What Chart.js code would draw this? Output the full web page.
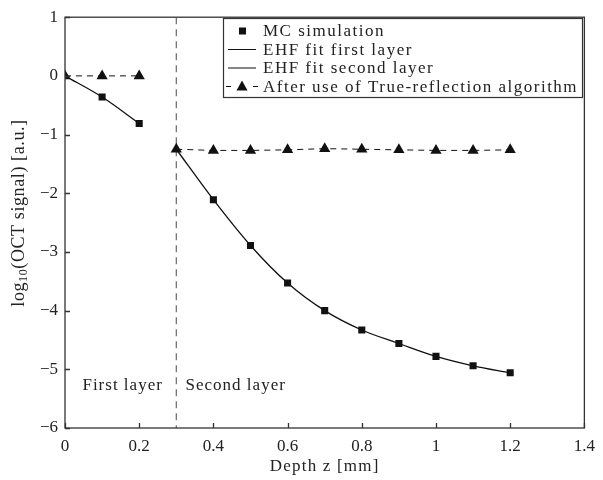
<!DOCTYPE html>
<html>
<head>
<meta charset="utf-8">
<script src="https://cdn.jsdelivr.net/npm/chart.js@4.4.0/dist/chart.umd.min.js"></script>
<style>
  html, body { margin: 0; padding: 0; background: #fff; }
</style>
</head>
<body>
<canvas id="myChart" width="603" height="480"></canvas>
<script>
// data
const depthMC = [0.1, 0.2, 0.4, 0.5, 0.6, 0.7, 0.8, 0.9, 1.0, 1.1, 1.2]
const mcSimulation = [-0.36, -0.81, -2.11, -2.89, -3.53, -4.00, -4.33, -4.56, -4.78, -4.94, -5.06]

const depthFirst = [0, 0.1, 0.2]
const fitFirst = [0, -0.36, -0.81]

const depthSecond = [0.3, 0.4, 0.5, 0.6, 0.7, 0.8, 0.9, 1.0, 1.1, 1.2]
const fitSecond = [-1.25, -2.11, -2.89, -3.53, -4.00, -4.33, -4.56, -4.78, -4.94, -5.06]

const depthTR = [0, 0.1, 0.2, 0.3, 0.4, 0.5, 0.6, 0.7, 0.8, 0.9, 1.0, 1.1, 1.2]
const trueReflection = [0, 0, 0, -1.25, -1.27, -1.27, -1.26, -1.24, -1.25, -1.26, -1.27, -1.27, -1.26]

const layerBoundary = 0.3
const xTicks = [0, 0.2, 0.4, 0.6, 0.8, 1, 1.2, 1.4]
const yTicks = [1, 0, -1, -2, -3, -4, -5, -6]

const legendLabels = ['MC simulation', 'EHF fit first layer', 'EHF fit second layer', 'After use of True-reflection algorithm']

const serif = '"Liberation Serif", "Times New Roman", serif'

const toPoints = (xs, ys) => xs.map((x, i) => ({ x: x, y: ys[i] }))

// box, inward ticks, axis titles, layer labels and legend
const decorations = {
  id: 'decorations',
  afterDraw(chart) {
    const ctx = chart.ctx
    const area = chart.chartArea
    const xs = chart.scales.x
    const ys = chart.scales.y
    ctx.save()
    ctx.strokeStyle = '#333'
    ctx.lineWidth = 1.3
    ctx.strokeRect(area.left, area.top, area.right - area.left, area.bottom - area.top)

    ctx.beginPath()
    xTicks.forEach(v => {
      const px = Math.round(xs.getPixelForValue(v)) + 0.5
      ctx.moveTo(px, area.bottom)
      ctx.lineTo(px, area.bottom - 5)
    })
    yTicks.forEach(v => {
      const py = Math.round(ys.getPixelForValue(v)) + 0.5
      ctx.moveTo(area.left, py)
      ctx.lineTo(area.left + 5, py)
    })
    ctx.stroke()

    ctx.fillStyle = '#222'
    ctx.textBaseline = 'middle'

    // x title
    ctx.font = '17px ' + serif
    ctx.letterSpacing = '1.2px'
    ctx.textAlign = 'center'
    ctx.fillText('Depth z [mm]', (area.left + area.right) / 2, 467)

    // y title with subscript
    ctx.save()
    ctx.translate(19, 213)
    ctx.rotate(-Math.PI / 2)
    ctx.textAlign = 'left'
    ctx.letterSpacing = '0.6px'
    const big = '18px ' + serif
    const small = '12px ' + serif
    ctx.font = big
    const w1 = ctx.measureText('log').width
    const w3 = ctx.measureText('(OCT signal) [a.u.]').width
    ctx.font = small
    const w2 = ctx.measureText('10').width
    let x0 = -(w1 + w2 + w3) / 2
    ctx.font = big
    ctx.fillText('log', x0, 0)
    ctx.font = small
    ctx.fillText('10', x0 + w1, 5)
    ctx.font = big
    ctx.fillText('(OCT signal) [a.u.]', x0 + w1 + w2, 0)
    ctx.restore()

    // layer labels
    ctx.font = '17px ' + serif
    ctx.letterSpacing = '1px'
    ctx.textAlign = 'left'
    ctx.fillText('First layer', xs.getPixelForValue(0.047), ys.getPixelForValue(-5.28))
    ctx.fillText('Second layer', xs.getPixelForValue(0.325), ys.getPixelForValue(-5.28))

    // legend
    const lx = 223, ly = 18, lw = 359, lh = 79
    ctx.fillStyle = '#fff'
    ctx.fillRect(lx, ly, lw, lh)
    ctx.strokeStyle = '#333'
    ctx.lineWidth = 1.2
    ctx.strokeRect(lx + 0.5, ly + 0.5, lw, lh)
    const rows = [31, 49.5, 68, 86.5]
    ctx.fillStyle = '#111'
    ctx.strokeStyle = '#111'
    // row 1: square
    ctx.fillRect(239, rows[0] - 3.5, 7, 7)
    // rows 2, 3: solid line
    ctx.lineWidth = 1.2
    ctx.setLineDash([])
    ctx.beginPath()
    ctx.moveTo(228, rows[1]); ctx.lineTo(256, rows[1])
    ctx.moveTo(228, rows[2]); ctx.lineTo(256, rows[2])
    ctx.stroke()
    // row 4: dash triangle dash
    ctx.lineWidth = 1
    ctx.beginPath()
    ctx.moveTo(226, rows[3]); ctx.lineTo(231, rows[3])
    ctx.moveTo(253, rows[3]); ctx.lineTo(258, rows[3])
    ctx.stroke()
    ctx.beginPath()
    ctx.moveTo(242, rows[3] - 6)
    ctx.lineTo(247.5, rows[3] + 4)
    ctx.lineTo(236.5, rows[3] + 4)
    ctx.closePath()
    ctx.fill()
    ctx.fillStyle = '#222'
    ctx.font = '17px ' + serif
    ctx.letterSpacing = '1.5px'
    legendLabels.forEach((t, i) => ctx.fillText(t, 263, rows[i] + 1))
    ctx.restore()
  }
}

const ctx = document.getElementById('myChart').getContext('2d')
const myChart = new Chart(ctx, {
  type: 'scatter',
  data: {
    datasets: [{
        label: legendLabels[3],
        data: toPoints(depthTR, trueReflection),
        showLine: true,
        borderColor: '#111',
        backgroundColor: '#111',
        borderWidth: 1,
        borderDash: [6, 5],
        // no connecting line across the layer boundary
        segment: {
          borderColor: c => (c.p0.parsed.x < layerBoundary && c.p1.parsed.x >= layerBoundary) ? 'rgba(0,0,0,0)' : undefined
        },
        pointStyle: 'triangle',
        pointRadius: 6.5,
        pointBorderWidth: 0,
        order: 0
      }, {
        label: legendLabels[0],
        data: toPoints(depthMC, mcSimulation),
        showLine: false,
        borderColor: '#111',
        backgroundColor: '#111',
        pointStyle: 'rect',
        pointRadius: 5,
        pointBorderWidth: 0,
        order: 1
      }, {
        label: legendLabels[1],
        data: toPoints(depthFirst, fitFirst),
        showLine: true,
        borderColor: '#111',
        borderWidth: 1.3,
        cubicInterpolationMode: 'monotone',
        pointRadius: 0,
        order: 2
      }, {
        label: legendLabels[2],
        data: toPoints(depthSecond, fitSecond),
        showLine: true,
        borderColor: '#111',
        borderWidth: 1.3,
        cubicInterpolationMode: 'monotone',
        pointRadius: 0,
        order: 2
      }, {
        label: 'layer boundary',
        data: [{ x: layerBoundary, y: 1 }, { x: layerBoundary, y: -6 }],
        showLine: true,
        borderColor: '#666',
        borderWidth: 1.2,
        borderDash: [7, 5],
        pointRadius: 0,
        order: 3
      }
    ]
  },
  options: {
    responsive: false,
    animation: false,
    devicePixelRatio: 1,
    layout: { padding: { top: 8, right: 17, left: 0, bottom: 0 } },
    plugins: {
      legend: { display: false },
      tooltip: { enabled: false }
    },
    scales: {
      x: {
        type: 'linear',
        min: 0,
        max: 1.4,
        afterBuildTicks: s => { s.ticks = xTicks.map(v => ({ value: v })) },
        afterFit: s => { s.height = 52 },
        grid: { display: false, drawTicks: false },
        border: { display: false },
        ticks: {
          color: '#222',
          padding: 8,
          maxRotation: 0,
          autoSkip: false,
          font: { family: serif, size: 17 },
          callback: v => String(v)
        }
      },
      y: {
        type: 'linear',
        min: -6,
        max: 1,
        afterBuildTicks: s => { s.ticks = yTicks.map(v => ({ value: v })) },
        afterFit: s => { s.width = 65 },
        grid: { display: false, drawTicks: false },
        border: { display: false },
        ticks: {
          color: '#222',
          padding: 7,
          autoSkip: false,
          font: { family: serif, size: 17 },
          callback: v => String(v).replace('-', '\u2212')
        }
      }
    }
  },
  plugins: [decorations]
})
</script>
</body>
</html>
